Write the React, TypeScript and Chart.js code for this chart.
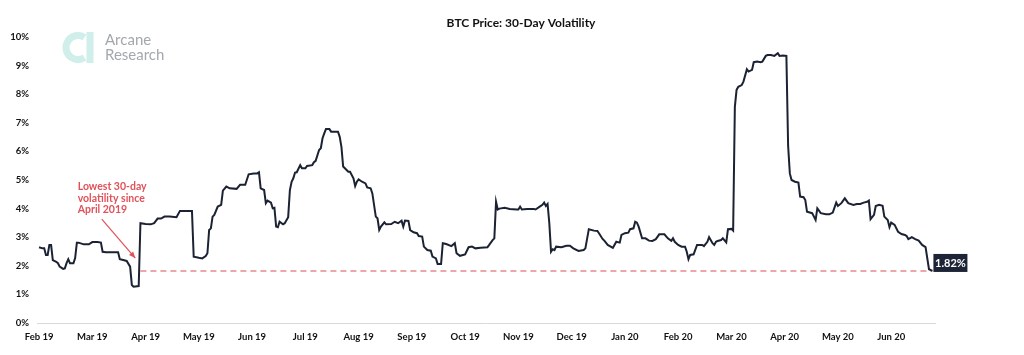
import React, { useEffect, useRef } from 'react';
import { Chart, registerables } from 'chart.js';

Chart.register(...registerables);

// ---- Data ----
const titleText = 'BTC Price: 30-Day Volatility';
// x values are days since 1 Feb 2019
const xTickDays = [0, 31, 62, 93, 124, 155, 186, 217, 248, 279, 310, 341, 372, 403, 434, 465, 496];
const xTickLabels = ['Feb 19', 'Mar 19', 'Apr 19', 'May 19', 'Jun 19', 'Jul 19', 'Aug 19', 'Sep 19', 'Oct 19', 'Nov 19', 'Dec 19', 'Jan 20', 'Feb 20', 'Mar 20', 'Apr 20', 'May 20', 'Jun 20'];
const yTickValues = [0, 1, 2, 3, 4, 5, 6, 7, 8, 9, 10];

const dayIndex = [
  0, 2, 3, 4, 5, 6, 7, 8, 10, 11, 12, 14, 15, 16, 17, 18, 20, 21, 22, 23, 26, 29, 31, 34, 36, 37, 39, 46, 47, 49,
  51, 53, 54, 55, 58, 59, 62, 65, 67, 69, 71, 73, 76, 80, 82, 86, 89, 90, 93, 95, 97, 98, 99, 100, 101, 102, 104, 106, 107, 109,
  111, 115, 117, 120, 122, 125, 127, 128, 129, 131, 132, 133, 135, 136, 137, 138, 139, 140, 142, 143, 145, 146, 147, 148, 149, 150, 152, 153, 155, 156,
  159, 160, 161, 163, 164, 165, 166, 167, 169, 170, 174, 175, 176, 177, 179, 180, 181, 183, 184, 185, 186, 188, 190, 191, 193, 194, 196, 197, 198, 199,
  201, 202, 205, 207, 209, 211, 212, 213, 215, 216, 218, 220, 221, 223, 224, 226, 228, 229, 231, 232, 234, 235, 237, 240, 242, 243, 245, 248, 250, 252,
  254, 257, 261, 262, 264, 265, 266, 267, 268, 271, 274, 278, 279, 280, 281, 284, 288, 289, 291, 293, 294, 295, 296, 297, 298, 299, 300, 301, 304, 307,
  309, 311, 314, 317, 318, 320, 323, 325, 326, 328, 329, 331, 334, 336, 338, 339, 341, 343, 344, 346, 347, 348, 349, 351, 353, 355, 357, 359, 361, 364,
  366, 368, 369, 370, 372, 374, 376, 377, 378, 379, 381, 383, 386, 387, 389, 390, 392, 393, 394, 395, 397, 398, 400, 401, 403, 404, 405, 406, 407, 409,
  410, 412, 413, 415, 416, 418, 420, 421, 423, 424, 426, 428, 430, 431, 433, 435, 436, 437, 438, 440, 442, 443, 445, 446, 447, 450, 452, 453, 455, 458,
  460, 462, 464, 465, 467, 469, 471, 474, 476, 478, 480, 482, 483, 484, 486, 487, 489, 491, 492, 494, 495, 496, 498, 500, 502, 504, 505, 506, 508, 510,
  512, 514, 516, 518, 520,
];

const volatility = [
  2.65, 2.61, 2.61, 2.38, 2.38, 2.73, 2.73, 2.20, 2.14, 2.09, 1.97, 1.89, 1.91, 2.09, 2.23, 2.09, 2.09, 2.27, 2.81, 2.81, 2.75, 2.75, 2.83, 2.83, 2.81, 2.49, 2.47, 2.47, 2.23, 2.20,
  2.17, 1.97, 1.33, 1.27, 1.29, 3.49, 3.46, 3.45, 3.49, 3.65, 3.65, 3.72, 3.72, 3.70, 3.92, 3.92, 3.92, 2.32, 2.28, 2.26, 2.34, 2.44, 3.25, 3.31, 3.72, 3.78, 4.07, 4.13, 4.63, 4.77,
  4.71, 4.69, 4.83, 4.83, 5.20, 5.23, 5.23, 5.27, 4.71, 4.65, 4.19, 4.28, 4.21, 4.01, 4.03, 3.37, 3.35, 3.54, 3.45, 3.49, 3.70, 4.65, 4.94, 5.06, 5.26, 5.27, 5.52, 5.41, 5.41, 5.49,
  5.52, 5.62, 5.67, 6.05, 6.11, 6.46, 6.63, 6.78, 6.78, 6.69, 6.69, 6.51, 6.16, 5.47, 5.35, 5.29, 5.29, 5.06, 4.79, 4.94, 5.02, 4.94, 4.88, 4.74, 4.71, 4.53, 3.72, 3.66, 3.25, 3.37,
  3.52, 3.45, 3.46, 3.54, 3.49, 3.58, 3.37, 3.58, 3.57, 3.25, 3.17, 3.14, 3.04, 3.02, 2.67, 2.55, 2.53, 2.32, 2.26, 2.06, 2.06, 2.79, 2.76, 2.69, 2.79, 2.44, 2.35, 2.40, 2.65, 2.67,
  2.61, 2.63, 2.65, 2.73, 2.90, 2.96, 4.24, 3.97, 4.00, 4.03, 3.99, 3.97, 3.97, 4.07, 3.97, 3.99, 3.99, 3.97, 4.05, 4.13, 4.21, 4.09, 4.16, 3.49, 2.49, 2.58, 2.55, 2.67, 2.65, 2.70,
  2.70, 2.61, 2.52, 2.55, 2.61, 3.28, 3.23, 3.22, 3.13, 2.94, 2.88, 2.73, 2.63, 2.84, 2.81, 3.08, 3.14, 3.16, 3.28, 3.31, 3.54, 3.51, 3.37, 2.96, 2.96, 2.88, 2.87, 2.93, 3.10, 3.10,
  2.96, 2.87, 2.96, 2.84, 2.73, 2.67, 2.67, 2.49, 2.23, 2.38, 2.40, 2.73, 2.73, 2.69, 2.84, 3.00, 2.79, 2.73, 2.84, 2.87, 2.90, 2.96, 2.82, 3.28, 3.29, 3.23, 7.56, 8.15, 8.26, 8.32,
  8.44, 8.87, 8.79, 8.85, 9.12, 9.14, 9.12, 9.14, 9.34, 9.37, 9.37, 9.34, 9.43, 9.34, 9.35, 9.34, 6.20, 5.23, 5.00, 4.94, 4.91, 4.42, 4.40, 4.30, 3.89, 3.84, 3.60, 4.01, 3.84, 3.80,
  3.80, 3.86, 4.21, 4.09, 4.19, 4.36, 4.19, 4.13, 4.16, 4.16, 4.21, 4.24, 4.28, 3.63, 3.78, 4.09, 4.13, 4.10, 3.72, 3.60, 3.35, 3.51, 3.43, 3.19, 3.11, 3.08, 3.04, 2.93, 3.00, 2.93,
  2.88, 2.73, 2.65, 1.88, 1.82,
];

const lowestLevel = 1.82;
const lowestFromDay = 59;
const annotationLines = ['Lowest 30-day', 'volatility since', 'April 2019'];
const lastValueLabel = '1.82%';

const FONT = 'Lato, "Open Sans", "DejaVu Sans", sans-serif';

const overlayPlugin = {
  id: 'overlay',
  afterDatasetsDraw(chart: any) {
    const ctx: CanvasRenderingContext2D = chart.ctx;
    const xs = chart.scales.x;
    const ys = chart.scales.y;
    ctx.save();

    // Title
    ctx.fillStyle = '#111111';
    ctx.font = `bold 12px ${FONT}`;
    ctx.textAlign = 'center';
    ctx.textBaseline = 'middle';
    ctx.fillText(titleText, 521, 23);

    // Logo
    ctx.strokeStyle = '#d0eeea';
    ctx.fillStyle = '#d0eeea';
    ctx.lineWidth = 7;
    ctx.beginPath();
    ctx.arc(78, 47.5, 12, -0.32 * Math.PI, 0.32 * Math.PI, true);
    ctx.stroke();
    ctx.fillRect(86.5, 32, 7, 31);
    ctx.fillStyle = '#a4a8ae';
    ctx.font = `15px ${FONT}`;
    ctx.textAlign = 'left';
    ctx.textBaseline = 'alphabetic';
    ctx.fillText('Arcane', 105, 45);
    ctx.fillText('Research', 105, 60);

    // Annotation text + arrow
    const red = '#e0525a';
    ctx.fillStyle = red;
    ctx.font = `bold 10.5px ${FONT}`;
    ctx.textBaseline = 'middle';
    const tx = xs.getPixelForValue(22.5);
    const ty = ys.getPixelForValue(4.77);
    annotationLines.forEach((l, i) => ctx.fillText(l, tx, ty + i * 11.6));

    const ax0 = xs.getPixelForValue(36.5);
    const ay0 = ys.getPixelForValue(3.63);
    const ax1 = xs.getPixelForValue(56);
    const ay1 = ys.getPixelForValue(2.27);
    ctx.strokeStyle = red;
    ctx.lineWidth = 1.2;
    ctx.beginPath();
    ctx.moveTo(ax0, ay0);
    ctx.lineTo(ax1, ay1);
    ctx.stroke();
    const ang = Math.atan2(ay1 - ay0, ax1 - ax0);
    const hl = 7;
    ctx.beginPath();
    ctx.moveTo(ax1, ay1);
    ctx.lineTo(ax1 - hl * Math.cos(ang - 0.4), ay1 - hl * Math.sin(ang - 0.4));
    ctx.lineTo(ax1 - hl * Math.cos(ang + 0.4), ay1 - hl * Math.sin(ang + 0.4));
    ctx.closePath();
    ctx.fill();

    // Last value label
    const lastX = xs.getPixelForValue(dayIndex[dayIndex.length - 1]);
    const lastY = ys.getPixelForValue(volatility[volatility.length - 1]);
    const bx = lastX + 1;
    const bh = 18;
    const by = lastY - bh + 1;
    ctx.fillStyle = '#1c2436';
    ctx.fillRect(bx, by, 34, bh);
    ctx.fillStyle = '#ffffff';
    ctx.font = `bold 11px ${FONT}`;
    ctx.textAlign = 'center';
    ctx.textBaseline = 'middle';
    ctx.fillText(lastValueLabel, bx + 17, by + bh / 2 + 0.5);

    ctx.restore();
  },
};

export default function App() {
  const ref = useRef<HTMLCanvasElement | null>(null);

  useEffect(() => {
    if (!ref.current) return;
    const chart = new Chart(ref.current, {
      type: 'line',
      data: {
        datasets: [
          {
            label: 'Volatility',
            data: dayIndex.map((d, i) => ({ x: d, y: volatility[i] })),
            borderColor: '#1b2233',
            borderWidth: 2,
            pointRadius: 0,
            tension: 0,
            fill: false,
            order: 1,
          },
          {
            label: 'Lowest',
            data: [
              { x: lowestFromDay, y: lowestLevel },
              { x: dayIndex[dayIndex.length - 1], y: lowestLevel },
            ],
            borderColor: '#e88a8e',
            borderWidth: 1.5,
            borderDash: [6, 4],
            pointRadius: 0,
            fill: false,
            order: 2,
          },
        ],
      },
      options: {
        responsive: false,
        animation: false,
        events: [],
        layout: { padding: { left: 0, right: 89, top: 37, bottom: 0 } },
        plugins: {
          legend: { display: false },
          title: { display: false },
          tooltip: { enabled: false },
        },
        scales: {
          x: {
            type: 'linear',
            min: -1.2,
            max: 521.5,
            grid: { display: false, drawTicks: false },
            border: { display: true, color: '#d9d9d9', width: 1 },
            afterBuildTicks: (scale: any) => {
              scale.ticks = xTickDays.map((v) => ({ value: v }));
            },
            afterFit: (scale: any) => {
              scale.height = 32;
            },
            ticks: {
              autoSkip: false,
              maxRotation: 0,
              padding: 8,
              color: '#111111',
              font: { family: FONT, size: 9.5, weight: 'bold' },
              callback: (v: any) => {
                const i = xTickDays.indexOf(Number(v));
                return i >= 0 ? xTickLabels[i] : '';
              },
            },
          },
          y: {
            type: 'linear',
            min: 0,
            max: 10,
            grid: { display: false, drawTicks: false },
            border: { display: false },
            afterBuildTicks: (scale: any) => {
              scale.ticks = yTickValues.map((v) => ({ value: v }));
            },
            afterFit: (scale: any) => {
              scale.width = 37;
            },
            ticks: {
              padding: 8,
              color: '#111111',
              font: { family: FONT, size: 9.5, weight: 'bold' },
              callback: (v: any) => `${v}%`,
            },
          },
        },
      },
      plugins: [overlayPlugin],
    });
    return () => chart.destroy();
  }, []);

  return (
    <div style={{ position: 'fixed', left: 0, top: 0, width: 1024, height: 355, background: '#ffffff' }}>
      <canvas ref={ref} width={1024} height={355} style={{ display: 'block', width: 1024, height: 355 }} />
    </div>
  );
}
